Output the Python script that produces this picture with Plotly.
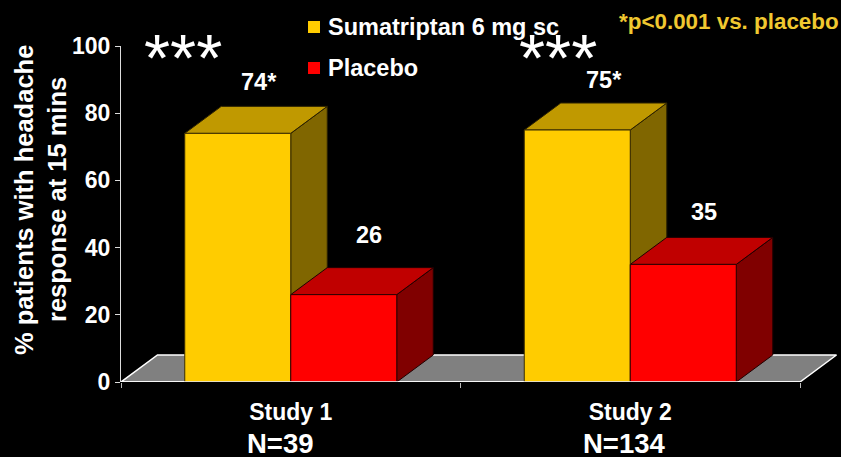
import plotly.graph_objects as go

categories = ["Study 1", "Study 2"]
sample_sizes = ["N=39", "N=134"]
sumatriptan = [74, 75]
placebo = [26, 35]
value_labels = ["74*", "26", "75*", "35"]
y_ticks = [0, 20, 40, 60, 80, 100]

W, H = 841, 457
L, T, B = 121, 46, 75
PX_X = 339.5          # pixels per category
PX_Y = 3.36           # pixels per percentage point
DX = 36.5 / PX_X      # 3-D depth offset in axis units
DY = 27 / PX_Y
BAR_W = 106 / PX_X
centers = [0.5, 1.5]

def xpaper(px):
    return (px - L) / (W - L)

def ypaper(py):
    return (H - B - py) / (H - B - T)

def poly(xs, ys, color, edge=None, width=1):
    return go.Scatter(x=xs, y=ys, mode="lines", fill="toself", fillcolor=color,
                      line=dict(color=edge or color, width=width), hoverinfo="skip",
                      showlegend=False, xaxis="x", yaxis="y")

def box3d(x0, v, top, side):
    x1 = x0 + BAR_W
    edge = "#2a2000" if side == "#806600" else "#200000"
    return [
        poly([x1, x1 + DX, x1 + DX, x1, x1], [0, DY, v + DY, v, 0], side, edge),
        poly([x0, x0 + DX, x1 + DX, x1, x0], [v, v + DY, v + DY, v, v], top, edge),
    ]

fig = go.Figure()

# floor
fig.add_trace(poly([0, DX, 2 + DX, 2, 0], [0, DY, DY, 0, 0], "#808080", "#ffffff", 1.5))

# side and top faces
for c, s, p in zip(centers, sumatriptan, placebo):
    for t in box3d(c - BAR_W, s, "#c09900", "#806600"):
        fig.add_trace(t)
    for t in box3d(c, p, "#c00000", "#800000"):
        fig.add_trace(t)

# front faces
fig.add_trace(go.Bar(name="Sumatriptan 6 mg sc", x=centers, y=sumatriptan, marker=dict(color="#ffcc00", line=dict(color="#3a2c00", width=1)),
                     yaxis="y2", showlegend=False))
fig.add_trace(go.Bar(name="Placebo", x=centers, y=placebo, marker=dict(color="#ff0000", line=dict(color="#300000", width=1)),
                     yaxis="y2", showlegend=False))

FONT = "Liberation Sans"
white = "#ffffff"

ann = []
def text(px, py, s, size, color=white, angle=0, anchor="center", bold=True):
    ann.append(dict(x=xpaper(px), y=ypaper(py), xref="paper", yref="paper", text=f"<b>{s}</b>" if bold else s,
                    showarrow=False, xanchor=anchor, yanchor="middle", textangle=angle, borderpad=0, borderwidth=0,
                    font=dict(family=FONT, size=size, color=color)))

text(24, 200, "% patients with headache", 25.5, angle=-90)
text(57, 200, "response at 15 mins", 25.5, angle=-90)
for px, py, s in zip([259, 369, 604, 704], [82, 235, 80, 212], value_labels):
    text(px, py, s, 23.5)
for px, s in zip([280.5, 624], sample_sizes):
    text(px, 443, s, 27.5)
text(183, 57, "***", 67, bold=False)
text(558, 58, "***", 67, bold=False)
text(328, 27, "Sumatriptan 6 mg sc", 23.5, anchor="left")
text(328, 68, "Placebo", 23.5, anchor="left")
text(839, 21, "*p&lt;0.001 vs. placebo", 22.4, color="#f0c830", anchor="right")

shapes = [
    dict(type="line", xref="x", yref="y", x0=0, x1=2, y0=0, y1=0, line=dict(color=white, width=1.5), layer="above"),
    dict(type="rect", xref="paper", yref="paper", x0=xpaper(308), x1=xpaper(320), y0=ypaper(33), y1=ypaper(21),
         fillcolor="#ffcc00", line=dict(width=0), layer="above"),
    dict(type="rect", xref="paper", yref="paper", x0=xpaper(308), x1=xpaper(320), y0=ypaper(74), y1=ypaper(62),
         fillcolor="#ff0000", line=dict(width=0), layer="above"),
]

fig.update_layout(
    width=W, height=H, autosize=False,
    margin=dict(l=L, r=0, t=T, b=B, pad=0),
    paper_bgcolor="#000000", plot_bgcolor="#000000",
    barmode="group", bargap=1 - 2 * BAR_W, bargroupgap=0,
    showlegend=False,
    annotations=ann, shapes=shapes,
    xaxis=dict(range=[0, (W - L) / PX_X], showgrid=False, zeroline=False, showline=False,
               tickmode="array", tickvals=centers, ticktext=[f"<b>{c}</b>" for c in categories],
               ticks="", ticklabelstandoff=14,
               tickfont=dict(family=FONT, size=23, color=white),
               minor=dict(tickmode="array", tickvals=[0, 1, 2], ticks="outside", ticklen=5, tickcolor="#bbbbbb", tickwidth=1, showgrid=False)),
    yaxis=dict(range=[0, 100], showgrid=False, zeroline=False, showline=True, linecolor="#dddddd", linewidth=1,
               tickmode="array", tickvals=y_ticks, ticktext=[f"<b>{v}</b>" for v in y_ticks],
               ticks="outside", ticklen=5, tickcolor="#dddddd", tickwidth=1,
               tickfont=dict(family=FONT, size=23, color=white)),
    yaxis2=dict(range=[0, 100], overlaying="y", visible=False),
)

fig.write_html("out.html", config={"displayModeBar": False},
               post_script="document.body.style.margin='0';document.body.style.background='#000';document.body.style.overflow='hidden';")
